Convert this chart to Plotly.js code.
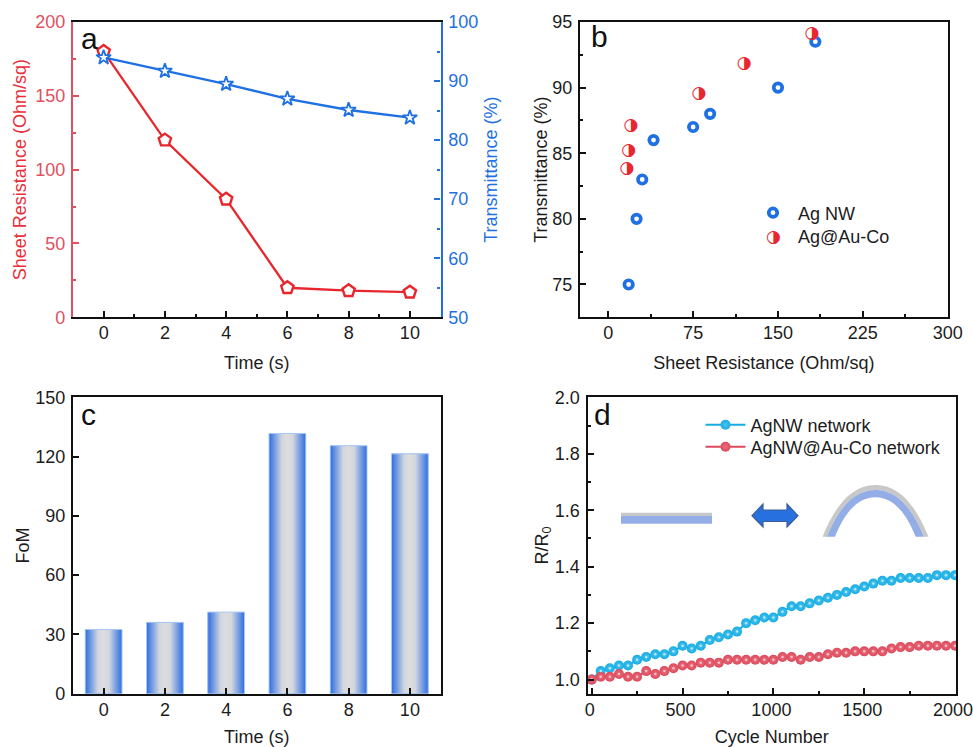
<!DOCTYPE html>
<html><head><meta charset="utf-8">
<script src="https://cdn.plot.ly/plotly-3.0.1.min.js"></script>
<style>html,body{margin:0;padding:0;background:#fff}</style></head>
<body><div id="chart" style="width:973px;height:747px"></div>
<script>
// Panel a
const timeS = [0, 2, 4, 6, 8, 10];
const sheetResistance = [180, 120, 80, 20, 18, 17];
const transmittance = [94, 91.7, 89.5, 87, 85.1, 83.8];
// Panel b
const agNwR = [18, 25, 30, 40, 75, 90, 150, 183];
const agNwT = [75, 80, 83, 86, 87, 88, 90, 93.5];
const agAuCoR = [180, 120, 80, 20, 18, 16.5];
const agAuCoT = [94.1, 91.8, 89.5, 87.1, 85.2, 83.8];
// Panel c
const fom = [32.5, 36.1, 41.3, 131.7, 125.5, 121.4];
// Panel d
const cycles = [0,50,100,150,200,250,300,350,400,450,500,550,600,650,700,750,800,850,900,950,1000,1050,1100,1150,1200,1250,1300,1350,1400,1450,1500,1550,1600,1650,1700,1750,1800,1850,1900,1950,2000];
const agNwRatio = [1.0,1.03,1.04,1.05,1.05,1.07,1.08,1.09,1.09,1.10,1.12,1.11,1.12,1.14,1.15,1.16,1.17,1.20,1.21,1.22,1.22,1.24,1.26,1.26,1.27,1.28,1.29,1.30,1.31,1.32,1.33,1.34,1.35,1.35,1.36,1.36,1.36,1.36,1.37,1.37,1.37];
const agAuCoRatio = [1.0,1.01,1.01,1.02,1.01,1.01,1.03,1.02,1.03,1.04,1.05,1.05,1.06,1.06,1.06,1.07,1.07,1.07,1.07,1.07,1.07,1.08,1.08,1.07,1.08,1.08,1.09,1.095,1.095,1.10,1.10,1.10,1.10,1.11,1.115,1.115,1.12,1.12,1.12,1.12,1.12];

const W = 973, H = 747;
const fx = x => x / W, fy = y => 1 - y / H;
const FONT = 'Liberation Sans, Arial, sans-serif', INK = '#1c1c1c';
const RED = '#e8262e', BLUE = '#1f70e2', AXRED = '#e0505f', DRED = '#dc4a5c', CYAN = '#16ade4';
const BAR_W = 1.2;

function axis(o) {
  return Object.assign({
    showgrid: false, zeroline: false, showline: true, linecolor: '#111', linewidth: 2.4,
    ticks: 'inside', ticklen: 6, tickwidth: 2, tickcolor: '#111',
    tickfont: {family: FONT, size: 18, color: INK}, ticklabelstandoff: 2, ticklabeloverflow: 'allow', automargin: false
  }, o);
}
const minor = (dtick, color) => ({dtick, ticks: 'inside', ticklen: 3, tickwidth: 2, tickcolor: color || '#111', showgrid: false});
const ttl = (text, color, standoff) => ({text, font: {family: FONT, size: 18, color: color || INK}, standoff});

const traces = [
  {x: timeS, y: sheetResistance, xaxis: 'x', yaxis: 'y', mode: 'lines+markers', showlegend: false,
   line: {color: RED, width: 2.3}, marker: {symbol: 'pentagon', size: 13, color: '#fff', line: {color: RED, width: 2.4}}},
  {x: timeS, y: transmittance, xaxis: 'x', yaxis: 'y5', mode: 'lines+markers', showlegend: false,
   line: {color: BLUE, width: 2.3}, marker: {symbol: 'star', size: 11, color: '#fff', line: {color: BLUE, width: 1.8}}},

  {x: agNwR, y: agNwT, xaxis: 'x2', yaxis: 'y2', mode: 'markers', name: 'Ag NW', legend: 'legend',
   marker: {symbol: 'circle', size: 8.5, color: '#fff', line: {color: BLUE, width: 3.7}}},
  {x: agAuCoR, y: agAuCoT, xaxis: 'x2', yaxis: 'y2', mode: 'markers', name: 'Ag@Au-Co', legend: 'legend2',
   marker: {symbol: 'circle', size: 8, color: '#fff', line: {width: 0}}},
  {x: agAuCoR, y: agAuCoT, xaxis: 'x2', yaxis: 'y2', mode: 'text', showlegend: false,
   text: agAuCoR.map(() => '\u25D1'), textposition: 'middle center', textfont: {family: 'DejaVu Sans', size: 17, color: RED}},

  {x: timeS, y: fom, xaxis: 'x3', yaxis: 'y3', type: 'bar', width: BAR_W, showlegend: false, marker: {color: BLUE}}
];
timeS.forEach((t, i) => traces.push({
  x: [t - BAR_W / 2, t - BAR_W / 2, t + BAR_W / 2, t + BAR_W / 2, t - BAR_W / 2],
  y: [0, fom[i], fom[i], 0, 0], xaxis: 'x3', yaxis: 'y3', mode: 'lines', fill: 'toself', showlegend: false,
  line: {color: '#a9c8f6', width: 1},
  fillgradient: {type: 'horizontal', colorscale: [[0, '#2c6de2'], [0.35, '#d2d6df'], [0.5, '#dddddd'], [0.65, '#d2d6df'], [1, '#2c6de2']]}
}));
traces.push(
  {x: cycles, y: agNwRatio, xaxis: 'x4', yaxis: 'y4', mode: 'lines+markers', name: 'AgNW network', legend: 'legend3',
   line: {color: CYAN, width: 2}, marker: {symbol: 'circle', size: 10, color: CYAN, gradient: {type: 'radial', color: '#4fc3ec'}}},
  {x: cycles, y: agAuCoRatio, xaxis: 'x4', yaxis: 'y4', mode: 'lines+markers', name: 'AgNW@Au-Co network', legend: 'legend4',
   line: {color: DRED, width: 2}, marker: {symbol: 'circle', size: 10, color: DRED, gradient: {type: 'radial', color: '#e8707f'}}},
  {x: cycles, y: agNwRatio, xaxis: 'x4', yaxis: 'y4', mode: 'markers', showlegend: false, marker: {symbol: 'circle', size: 2.5, color: '#b5e6f7'}},
  {x: cycles, y: agAuCoRatio, xaxis: 'x4', yaxis: 'y4', mode: 'markers', showlegend: false, marker: {symbol: 'circle', size: 2.5, color: '#f4c0c8'}}
);

const legendBase = (x, y) => ({x: fx(x), y: fy(y), xanchor: 'left', yanchor: 'middle', bgcolor: 'rgba(0,0,0,0)', borderwidth: 0,
  itemwidth: 40, font: {family: FONT, size: 18, color: INK}, itemclick: false, itemdoubleclick: false});

const P = (x, y) => fx(x).toFixed(5) + ',' + fy(y).toFixed(5);
function arch(x0, x1, yTop, yBot) { return {x0, x1, xm: (x0 + x1) / 2, rx: (x1 - x0) / 2, ry: yBot - yTop, yTop, yBot}; }
function crescent(o, i) {
  const a = 0.22, b = 0.55, c = 0.48;
  return 'M' + P(o.x0, o.yBot) +
    'C' + P(o.x0 + a * o.rx, o.yBot - b * o.ry) + ' ' + P(o.xm - c * o.rx, o.yTop) + ' ' + P(o.xm, o.yTop) +
    'C' + P(o.xm + c * o.rx, o.yTop) + ' ' + P(o.x1 - a * o.rx, o.yBot - b * o.ry) + ' ' + P(o.x1, o.yBot) +
    'L' + P(i.x1, i.yBot) +
    'C' + P(i.x1 - a * i.rx, i.yBot - b * i.ry) + ' ' + P(i.xm + c * i.rx, i.yTop) + ' ' + P(i.xm, i.yTop) +
    'C' + P(i.xm - c * i.rx, i.yTop) + ' ' + P(i.x0 + a * i.rx, i.yBot - b * i.ry) + ' ' + P(i.x0, i.yBot) + 'Z';
}
const rect = (x0, x1, y0, y1, c) => ({type: 'rect', xref: 'paper', yref: 'paper', x0: fx(x0), x1: fx(x1), y0: fy(y0), y1: fy(y1), fillcolor: c, line: {width: 0}});
const pathShape = (path, c, line) => ({type: 'path', xref: 'paper', yref: 'paper', path, fillcolor: c, line: line || {width: 0}});
const archGray = arch(822.5, 928.5, 485, 536.7), archMid = arch(826.8, 924, 490, 536.7), archIn = arch(835, 915.7, 497.3, 536.7);
const arrow = 'M' + [[752,515.7],[763,504],[763,510],[787,510],[787,504],[798,515.7],[787,527],[787,521.5],[763,521.5],[763,527]].map(p => P(p[0], p[1])).join('L') + 'Z';

const letter = (t, x, y) => ({text: t, xref: 'paper', yref: 'paper', x: fx(x), y: fy(y), xanchor: 'left', yanchor: 'middle',
  showarrow: false, font: {family: FONT, size: 30, color: '#111'}});

const layout = {
  width: W, height: H, autosize: false, margin: {l: 0, r: 0, t: 0, b: 0}, paper_bgcolor: '#fff', plot_bgcolor: '#fff',
  font: {family: FONT, color: INK},
  xaxis: axis({domain: [fx(73), fx(440.5)], anchor: 'y', range: [-1, 11], tickvals: timeS, mirror: true, ticklabelstandoff: -2,
    minor: minor(1), title: ttl('Time (s)', INK, 14)}),
  yaxis: axis({domain: [fy(317.3), fy(22)], anchor: 'x', range: [0, 200], dtick: 50, linecolor: AXRED, tickcolor: AXRED,
    tickfont: {family: FONT, size: 18, color: AXRED}, minor: minor(25, AXRED), title: ttl('Sheet Resistance (Ohm/sq)', '#e8303c', 4)}),
  yaxis5: axis({domain: [fy(317.3), fy(22)], anchor: 'x', overlaying: 'y', side: 'right', range: [50, 100], dtick: 10, linecolor: BLUE, tickcolor: BLUE,
    tickfont: {family: FONT, size: 18, color: BLUE}, minor: minor(5, BLUE), title: ttl('Transmittance (%)', BLUE, 7)}),

  xaxis2: axis({domain: [fx(580), fx(947.7)], anchor: 'y2', range: [-25, 300], dtick: 75, tick0: 0, mirror: true, ticklabelstandoff: -2,
    minor: minor(37.5), title: ttl('Sheet Resistance (Ohm/sq)', INK, 14)}),
  yaxis2: axis({domain: [fy(317.3), fy(22)], anchor: 'x2', range: [72.5, 95], dtick: 5, mirror: true,
    minor: minor(2.5), title: ttl('Transmittance (%)', INK, 0)}),

  xaxis3: axis({domain: [fx(73), fx(440.5)], anchor: 'y3', range: [-1, 11], tickvals: timeS, mirror: true, ticklabelstandoff: -2, title: ttl('Time (s)', INK, 13)}),
  yaxis3: axis({domain: [fy(693.7), fy(397.3)], anchor: 'x3', range: [0, 150], dtick: 30, mirror: true, title: ttl('FoM', INK, 1)}),

  xaxis4: axis({domain: [fx(587.7), fx(956)], anchor: 'y4', range: [-22, 2005], dtick: 500, tick0: 0, mirror: true, ticklabelstandoff: -2, ticklabelshift: -2,
    minor: minor(250), title: ttl('Cycle Number', INK, 13)}),
  yaxis4: axis({domain: [fy(693.7), fy(397.3)], anchor: 'x4', range: [0.95, 2.0], dtick: 0.2, tick0: 0, tickformat: '.1f', mirror: true,
    minor: minor(0.1), title: ttl('R/R<sub>0</sub>', INK, 2)}),

  legend: legendBase(748, 213),
  legend2: legendBase(748, 236),
  legend3: legendBase(700.5, 425),
  legend4: legendBase(700.5, 447),
  shapes: [
    rect(621, 712, 512.7, 516, '#c8c8c8'),
    rect(621, 712, 516, 523.7, '#93aee6'),
    pathShape(crescent(archGray, archMid), '#c8c8c8'),
    pathShape(crescent(archMid, archIn), '#93aee6'),
    pathShape(arrow, '#2670e0', {color: '#3f5f8f', width: 1.2})
  ],
  annotations: [
    letter('a', 79, 39), letter('b', 589, 36), letter('c', 79, 414), letter('d', 592, 414),
    {text: '\u25D1', xref: 'paper', yref: 'paper', x: fx(773), y: fy(236), xanchor: 'center', yanchor: 'middle', showarrow: false,
     font: {family: 'DejaVu Sans', size: 17, color: RED}}
  ]
};
Plotly.newPlot('chart', traces, layout, {displayModeBar: false});
</script></body></html>
